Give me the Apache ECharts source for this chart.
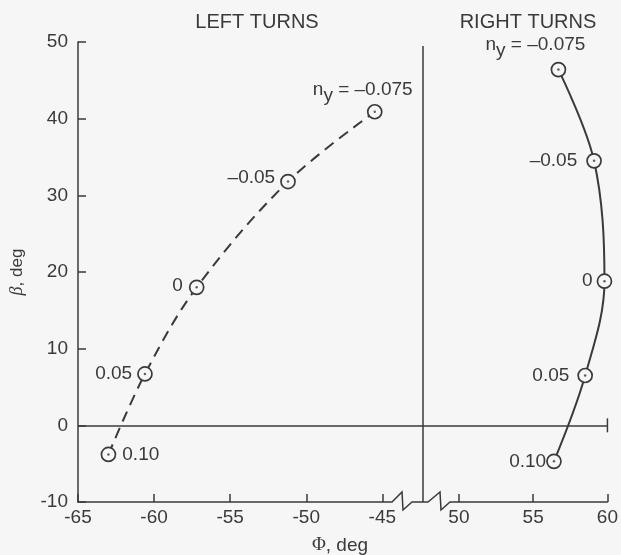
<!DOCTYPE html>
<html><head><meta charset="utf-8">
<script src="https://cdn.jsdelivr.net/npm/echarts@6/dist/echarts.min.js"></script>
<style>html,body{margin:0;padding:0;background:#f6f6f6}#c{width:621px;height:555px}</style>
</head><body><div id="c"></div>
<script>
// ---- data ----
const nyLabels = ['0.10', '0.05', '0', '\u20130.05', '\u20130.075'];
const leftPhi = [-63.0, -60.6, -57.2, -51.2, -45.5];
const leftBeta = [-3.8, 6.7, 18.0, 31.8, 40.9];
const rightPhi = [56.4, 58.5, 59.8, 59.1, 56.7];
const rightBeta = [-4.7, 6.5, 18.8, 34.5, 46.4];
const yTicks = [-10, 0, 10, 20, 30, 40, 50];
const leftXTicks = [-65, -60, -55, -50, -45];
const rightXTicks = [50, 55, 60];

// ---- layout ----
const GL = 75, GT = 42, GH = 460, XB = 423, GR = 613;
const INK = '#3a3a3a', BG = '#f6f6f6';
const FONT = 'Liberation Sans';
const FS = 19;
const leftMax = -65 + (XB - GL) / 15.35;
const rightMin = 60 - (GR - XB) / 15.3;

const leftLab = [
  {position: 'right', distance: 6},
  {position: 'left', distance: 5},
  {position: 'left', distance: 6, offset: [0, -2]},
  {position: 'left', distance: 5, offset: [0, -4]},
  {position: 'top', distance: 4, offset: [-12, 0]}
];
const rightLab = [
  {position: 'left', distance: 0},
  {position: 'left', distance: 8},
  {position: 'left', distance: 4},
  {position: 'left', distance: 9},
  {position: 'top', distance: 6, offset: [-23, 0]}
];
const rich = {
  a: {fontSize: FS, fontFamily: FONT, color: INK, lineHeight: 21},
  s: {fontSize: FS, fontFamily: FONT, color: INK, lineHeight: 21, padding: [12, 0, 0, 0]}
};
function labelText(i) {
  if (i === nyLabels.length - 1) return '{a|n}{s|y}{a| = ' + nyLabels[i] + '}';
  return '{a|' + nyLabels[i] + '}';
}
function buildData(xs, ys, labs) {
  return xs.map((x, i) => ({
    value: [x, ys[i]],
    label: Object.assign({show: true, formatter: labelText(i), rich: rich}, labs[i])
  }));
}

const chart = echarts.init(document.getElementById('c'), null, {renderer: 'canvas'});
const axisLabelStyle = {fontSize: FS, fontFamily: FONT, color: INK};
const titleStyle = {fontSize: 20, fontWeight: 'normal', fontFamily: FONT, color: INK};
const option = {
  backgroundColor: BG,
  animation: false,
  title: [
    {text: 'LEFT TURNS', left: 252, top: 7, textAlign: 'center', textStyle: titleStyle},
    {text: 'RIGHT TURNS', left: 523, top: 7, textAlign: 'center', textStyle: titleStyle},
    {text: '{g|\u03a6}{a|, deg}', left: 335, top: 531, textAlign: 'center',
      textStyle: {fontWeight: 'normal', rich: {
        g: {fontSize: 19, fontWeight: 'normal', fontFamily: 'Liberation Serif', color: INK},
        a: {fontSize: 19, fontWeight: 'normal', fontFamily: FONT, color: INK}}}}
  ],
  grid: [
    {left: GL, top: GT, width: XB - GL, height: GH},
    {left: XB, top: GT, width: GR - XB, height: GH}
  ],
  xAxis: [
    {type: 'value', gridIndex: 0, min: -65, max: leftMax,
      axisLine: {onZero: false, lineStyle: {color: INK, width: 1.5}},
      axisTick: {inside: true, length: 8, lineStyle: {color: INK, width: 1.5}, customValues: leftXTicks},
      axisLabel: Object.assign({margin: 6, customValues: leftXTicks}, axisLabelStyle),
      splitLine: {show: false}},
    {type: 'value', gridIndex: 1, min: rightMin, max: 60,
      axisLine: {onZero: false, lineStyle: {color: INK, width: 1.5}},
      axisTick: {inside: true, length: 8, lineStyle: {color: INK, width: 1.5}, customValues: rightXTicks},
      axisLabel: Object.assign({margin: 6, customValues: rightXTicks}, axisLabelStyle),
      splitLine: {show: false}}
  ],
  yAxis: [
    {type: 'value', gridIndex: 0, min: -10, max: 50, interval: 10,
      name: '{b|\u03b2}{a|, deg}', nameLocation: 'middle', nameGap: 52, nameRotate: 90,
      nameTextStyle: {rich: {
        b: {fontSize: 18, fontFamily: 'Liberation Serif', fontStyle: 'italic', color: INK},
        a: {fontSize: 17, fontFamily: FONT, color: INK}}},
      axisLine: {lineStyle: {color: INK, width: 1.5}},
      axisTick: {inside: true, length: 8, lineStyle: {color: INK, width: 1.5}},
      axisLabel: Object.assign({margin: 10}, axisLabelStyle),
      splitLine: {show: false}},
    {type: 'value', gridIndex: 1, min: -10, max: 50, interval: 10,
      axisLine: {show: false}, axisTick: {show: false}, axisLabel: {show: false}, splitLine: {show: false}}
  ],
  series: [
    {type: 'line', xAxisIndex: 0, yAxisIndex: 0, data: buildData(leftPhi, leftBeta, leftLab),
      smooth: 0.35, symbol: 'circle', symbolSize: 14,
      lineStyle: {color: INK, width: 2, type: [11, 7]},
      itemStyle: {color: BG, borderColor: INK, borderWidth: 1.7},
      markLine: {silent: true, symbol: ['none', 'none'], label: {show: false},
        lineStyle: {color: INK, width: 1.5, type: 'solid'}, data: [{yAxis: 0}]},
      z: 3},
    {type: 'scatter', xAxisIndex: 0, yAxisIndex: 0, data: leftPhi.map((x, i) => [x, leftBeta[i]]),
      symbolSize: 2.5, itemStyle: {color: INK}, z: 5},
    {type: 'line', xAxisIndex: 1, yAxisIndex: 1, data: buildData(rightPhi, rightBeta, rightLab),
      smooth: 0.35, symbol: 'circle', symbolSize: 14,
      lineStyle: {color: INK, width: 2},
      itemStyle: {color: BG, borderColor: INK, borderWidth: 1.7},
      markLine: {silent: true, symbol: ['none', 'none'], label: {show: false},
        lineStyle: {color: INK, width: 1.5, type: 'solid'}, data: [{yAxis: 0}]},
      z: 3},
    {type: 'scatter', xAxisIndex: 1, yAxisIndex: 1, data: rightPhi.map((x, i) => [x, rightBeta[i]]),
      symbolSize: 2.5, itemStyle: {color: INK}, z: 5}
  ]
};
chart.setOption(option);

// decorations: axis break zigzags, panel divider and end tick on the zero line
const zEnd = chart.convertToPixel({xAxisIndex: 1, yAxisIndex: 1}, [60, 0]);
const yb = GT + GH;
chart.setOption({
  graphic: [
    {type: 'rect', shape: {x: XB - 33, y: yb - 4, width: 63, height: 8}, style: {fill: BG}, z: 50, silent: true},
    {type: 'polyline', shape: {points: [
      [XB - 33, yb], [XB - 31, yb], [XB - 21, yb - 10], [XB - 20, yb + 8], [XB - 11, yb], [XB + 5, yb],
      [XB + 17, yb - 10], [XB + 18, yb + 8], [XB + 27, yb], [XB + 30, yb]]},
      style: {stroke: INK, lineWidth: 1.5, fill: null}, z: 51, silent: true},
    {type: 'line', shape: {x1: XB, y1: GT + 4, x2: XB, y2: yb}, style: {stroke: INK, lineWidth: 1.5}, z: 52, silent: true},
    {type: 'line', shape: {x1: zEnd[0], y1: zEnd[1] - 7, x2: zEnd[0], y2: zEnd[1] + 7}, style: {stroke: INK, lineWidth: 1.5}, z: 52, silent: true}
  ]
});
</script></body></html>
